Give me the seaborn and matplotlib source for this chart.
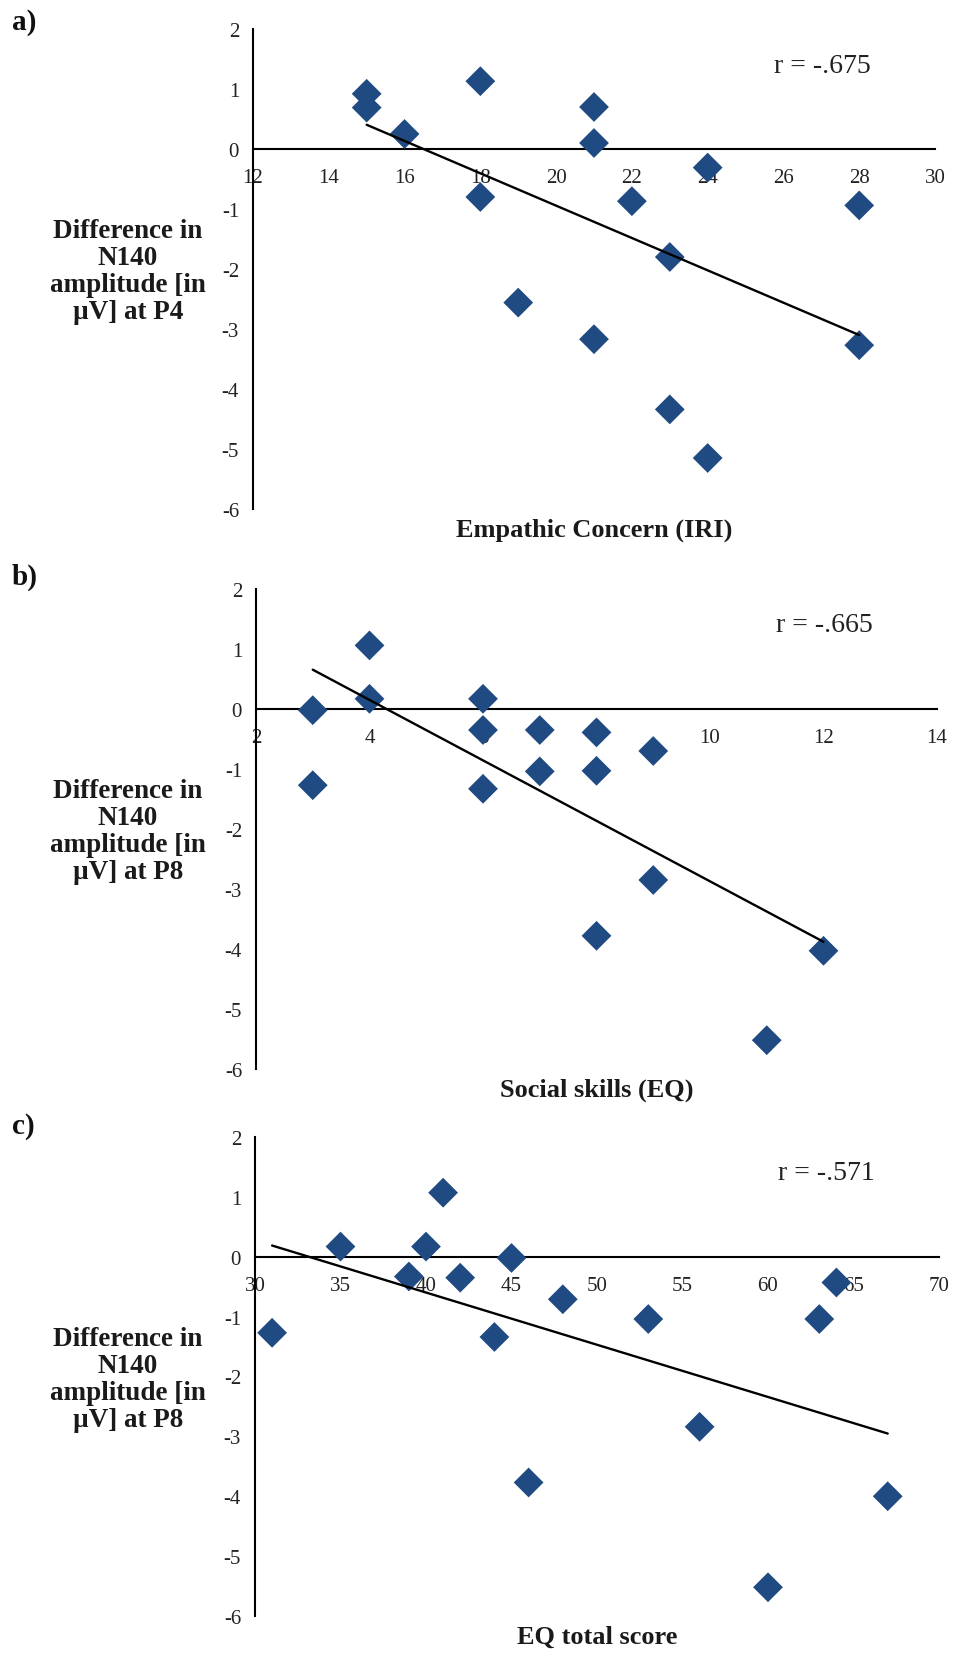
import matplotlib
matplotlib.use("Agg")
import matplotlib.pyplot as plt
import seaborn as sns
import pandas as pd

# ---- data ----
a_x = [15, 15, 16, 18, 18, 19, 21, 21, 21, 22, 23, 23, 24, 24, 28, 28]
a_y = [0.92, 0.69, 0.25, 1.13, -0.80, -2.56, 0.70, 0.10, -3.17, -0.87, -1.80, -4.34, -0.31, -5.15, -0.94, -3.27]
b_x = [3, 3, 4, 4, 6, 6, 6, 7, 7, 8, 8, 8, 9, 9, 11, 12]
b_y = [-0.02, -1.27, 1.06, 0.17, 0.17, -0.35, -1.33, -0.35, -1.04, -0.39, -1.03, -3.78, -0.70, -2.85, -5.52, -4.03]
c_x = [31, 35, 39, 40, 41, 42, 44, 45, 46, 48, 53, 56, 60, 63, 64, 67]
c_y = [-1.27, 0.17, -0.33, 0.17, 1.07, -0.35, -1.34, -0.02, -3.77, -0.71, -1.04, -2.84, -5.52, -1.04, -0.43, -4.00]

panel_letters = ["a)", "b)", "c)"]
x_labels = ["Empathic Concern (IRI)", "Social skills (EQ)", "EQ total score"]
y_labels = ["Difference in\nN140\namplitude [in\n\u00b5V] at P4",
            "Difference in\nN140\namplitude [in\n\u00b5V] at P8",
            "Difference in\nN140\namplitude [in\n\u00b5V] at P8"]
r_texts = ["r = -.675", "r = -.665", "r = -.571"]
x_limits = [(12, 30), (2, 14), (30, 70)]
x_steps = [2, 2, 5]
y_ticks = [2, 1, 0, -1, -2, -3, -4, -5, -6]

sns.set_theme(style="white")
plt.rcParams["font.family"] = ["Liberation Serif", "DejaVu Serif"]
plt.rcParams["axes.unicode_minus"] = False

fig = plt.figure(figsize=(9.57, 16.56), dpi=100)

# axes rectangles in pixels (left, top, right, bottom)
rects_px = [(253, 30, 935, 510), (256, 590, 937, 1070), (255, 1138, 939, 1617)]
W, H = 957, 1656
letter_y_px = [23, 577, 1127]

marker_color = "#1f4a82"

for i in range(3):
    l, t, r, b = rects_px[i]
    ax = fig.add_axes([l / W, 1 - b / H, (r - l) / W, (b - t) / H])
    xs = [a_x, b_x, c_x][i]
    ys = [a_y, b_y, c_y][i]
    df = pd.DataFrame({"x": xs, "y": ys})
    sns.regplot(data=df, x="x", y="y", ax=ax, ci=None, marker="D",
                scatter_kws=dict(s=230, color=marker_color, edgecolor="none", alpha=1, zorder=3),
                line_kws=dict(color="black", lw=1.7, zorder=4))
    x0, x1 = x_limits[i]
    ax.set_xlim(x0, x1)
    ax.set_ylim(-6, 2)
    ax.set_xticks(list(range(x0, x1 + 1, x_steps[i])))
    ax.set_yticks(y_ticks)
    ax.set_xlabel("")
    ax.set_ylabel("")
    ax.spines["top"].set_visible(False)
    ax.spines["right"].set_visible(False)
    ax.spines["bottom"].set_position(("data", 0))
    for s in ("left", "bottom"):
        ax.spines[s].set_color("black")
        ax.spines[s].set_linewidth(1.5)
    ax.tick_params(axis="both", which="major", direction="out", length=4, width=1.3,
                   color="black", labelsize=15, labelcolor="#222222")
    ax.tick_params(axis="x", pad=10)
    ax.tick_params(axis="y", pad=6)
    ax.grid(False)
    ax.patch.set_alpha(0)

    ax.text(0.835, 1 - 36 / 480, r_texts[i], transform=ax.transAxes, ha="center", va="center",
            fontsize=20, color="#222222")
    ax.text(0.5, -20 / 480, x_labels[i], transform=ax.transAxes, ha="center", va="center",
            fontsize=19, fontweight="bold", color="#1a1a1a")
    fig.text(128 / W, 1 - (t + 242) / H, y_labels[i], ha="center", va="center",
             fontsize=19.5, fontweight="bold", color="#1a1a1a", linespacing=1.12)
    fig.text(12 / W, 1 - letter_y_px[i] / H, panel_letters[i], ha="left", va="center",
             fontsize=21, fontweight="bold", color="#111111")

fig.savefig("out.png", dpi=100)
